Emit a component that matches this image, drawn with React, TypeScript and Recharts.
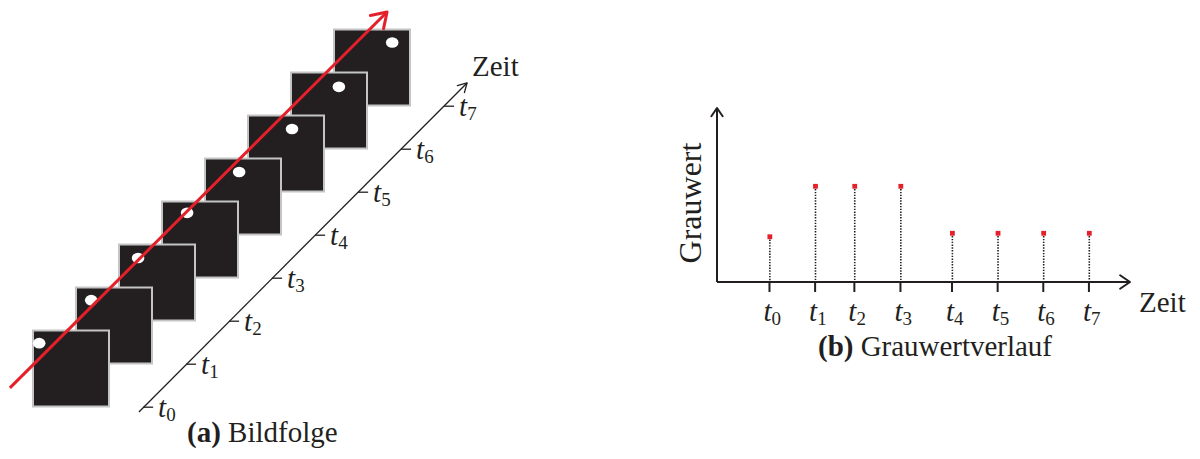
import React from "react";
import { ScatterChart, ComposedChart, Scatter, Bar, XAxis, YAxis, ReferenceLine } from "recharts";

// (a) image sequence, in diagram step units (one step = one frame shift)
const frameIndex = [0, 1, 2, 3, 4, 5, 6, 7];
const spotU = [-0.74, 0.47, 1.56, 2.7, 3.91, 5.14, 6.23, 7.47];
const spotV = [0.59, 1.59, 2.57, 3.62, 4.57, 5.57, 6.55, 7.58];
const tickU = [1.7, 2.7, 3.7, 4.7, 5.7, 6.7, 7.7, 8.7];
const tickV = [-0.9, 0.1, 1.1, 2.1, 3.1, 4.1, 5.1, 6.1];
const timeSubscripts = ["0", "1", "2", "3", "4", "5", "6", "7"];
const motionPath = [
  { x: -1.42, y: -0.45 },
  { x: 7.35, y: 8.29 },
];
const timeAxisPath = [
  { x: 1.58, y: -1.01 },
  { x: 9.21, y: 6.64 },
];

// (b) grey value at the tracked pixel over time
const sampleTimes = [0, 1, 1.86, 2.87, 4, 5, 6, 7];
const greyValues = [26, 55, 55, 55, 28, 28, 28, 28];

const FONT = "Liberation Serif, DejaVu Serif, serif";
const INK = "#231f20";
const RED = "#e4202b";

const frames = frameIndex.map((k) => ({ x: k, y: k })).reverse();
const spots = spotU.map((u, i) => ({ x: u, y: spotV[i] }));
const timeTicks = tickU.map((u, i) => ({ x: u, y: tickV[i], label: timeSubscripts[i] }));
const greyRows = sampleTimes.map((t, i) => ({ t, grey: greyValues[i] }));

function arrowPath(x1: number, y1: number, x2: number, y2: number, color: string, width: number, head: number, spread: number) {
  const a = Math.atan2(y2 - y1, x2 - x1);
  const h1 = `${x2 - head * Math.cos(a - spread)},${y2 - head * Math.sin(a - spread)}`;
  const h2 = `${x2 - head * Math.cos(a + spread)},${y2 - head * Math.sin(a + spread)}`;
  return (
    <g>
      <line x1={x1} y1={y1} x2={x2} y2={y2} stroke={color} strokeWidth={width} />
      <polyline points={`${h1} ${x2},${y2} ${h2}`} fill="none" stroke={color} strokeWidth={width} strokeLinecap="round" strokeLinejoin="round" />
    </g>
  );
}

// arrow drawn from the joined points of a Scatter series
const pointsArrow = (color: string, width: number, head: number, spread: number) => (p: any) => {
  const pts = p.points;
  const s = pts[0];
  const e = pts[pts.length - 1];
  return arrowPath(s.x, s.y, e.x, e.y, color, width, head, spread);
};

// arrow for a ReferenceLine segment
const segmentArrow = (color: string, width: number, head: number, spread: number) => (p: any) =>
  arrowPath(p.x1, p.y1, p.x2, p.y2, color, width, head, spread);

const NoPoint = () => <g />;

const Frame = (p: any) => (
  <rect x={p.cx - 38} y={p.cy - 38} width={76} height={76} fill={INK} stroke="#c4c4c4" strokeWidth={2} />
);

const Spot = (p: any) => <ellipse cx={p.cx} cy={p.cy} rx={6.3} ry={5.3} fill="#fff" />;

const TimeLabel = ({ sub, x, y }: { sub: string; x: number; y: number }) => (
  <text x={x} y={y} fontFamily={FONT} fontSize={29} fill={INK}>
    <tspan fontStyle="italic">t</tspan>
    <tspan fontSize={19} dy={4}>{sub}</tspan>
  </text>
);

const DiagonalTick = (p: any) => (
  <g>
    <line x1={p.cx - 1} y1={p.cy} x2={p.cx + 9} y2={p.cy} stroke={INK} strokeWidth={1.3} />
    <TimeLabel sub={p.payload.label} x={p.cx + 14} y={p.cy + 10} />
  </g>
);

const Stem = (p: any) => {
  const cx = p.x + p.width / 2;
  return (
    <g>
      <line x1={cx} x2={cx} y1={p.y} y2={p.y + p.height} stroke={INK} strokeWidth={1.6} strokeDasharray="1.4 1.4" />
      <rect x={cx - 2.4} y={p.y - 2.4} width={4.8} height={4.8} fill={RED} />
    </g>
  );
};

const AxisTime = (p: any) => {
  const i = sampleTimes.indexOf(p.payload.value);
  return <TimeLabel sub={timeSubscripts[i]} x={p.x - 6} y={p.y + 27} />;
};

export default function App() {
  return (
    <div style={{ position: "absolute", left: 0, top: 0, width: 1200, height: 459, background: "#fff" }}>
      <div style={{ position: "absolute", left: 0, top: 0 }}>
        <ScatterChart width={530} height={459} margin={{ top: 3, right: 7.5, bottom: 4.5, left: 6.5 }}>
          <XAxis type="number" dataKey="x" domain={[-1.5, 10.5]} hide />
          <YAxis type="number" dataKey="y" domain={[-2, 8.5]} hide />
          <Scatter data={frames} shape={Frame} isAnimationActive={false} />
          <Scatter data={spots} shape={Spot} isAnimationActive={false} />
          <Scatter data={motionPath} line={pointsArrow(RED, 3, 17, 0.58)} shape={NoPoint} isAnimationActive={false} />
          <Scatter data={timeAxisPath} line={pointsArrow(INK, 1.3, 10, 0.52)} shape={NoPoint} isAnimationActive={false} />
          <Scatter data={timeTicks} shape={DiagonalTick} isAnimationActive={false} />
        </ScatterChart>
      </div>
      <div style={{ position: "absolute", left: 600, top: 0 }}>
        <ComposedChart width={600} height={459} data={greyRows} margin={{ top: 108, right: 70, bottom: 137, left: 117 }}>
          <XAxis
            type="number"
            dataKey="t"
            domain={[-1.15, 7.9]}
            ticks={sampleTimes}
            interval={0}
            axisLine={false}
            tickSize={10}
            tickLine={{ stroke: INK, strokeWidth: 2 }}
            tick={AxisTime}
            height={40}
          />
          <YAxis type="number" domain={[0, 100]} hide />
          <ReferenceLine segment={[{ x: -1.15, y: 0 }, { x: 7.9, y: 0 }]} shape={segmentArrow(INK, 2, 12, 0.6)} />
          <ReferenceLine segment={[{ x: -1.15, y: 0 }, { x: -1.15, y: 100 }]} shape={segmentArrow(INK, 2, 10, 0.6)} />
          <Bar dataKey="grey" barSize={6} shape={Stem} isAnimationActive={false} />
        </ComposedChart>
      </div>
      <svg width={1200} height={459} style={{ position: "absolute", left: 0, top: 0, pointerEvents: "none" }}>
        <g fontFamily={FONT} fill={INK} fontSize={29}>
          <text x={472} y={76}>Zeit</text>
          <text x={1139} y={312}>Zeit</text>
          <text transform="translate(701,203) rotate(-90)" textAnchor="middle" fontSize={32}>Grauwert</text>
          <text x={187} y={442}>
            <tspan fontWeight="bold">(a)</tspan> Bildfolge
          </text>
          <text x={818} y={356} textLength={234} lengthAdjust="spacing">
            <tspan fontWeight="bold">(b)</tspan> Grauwertverlauf
          </text>
        </g>
      </svg>
    </div>
  );
}
